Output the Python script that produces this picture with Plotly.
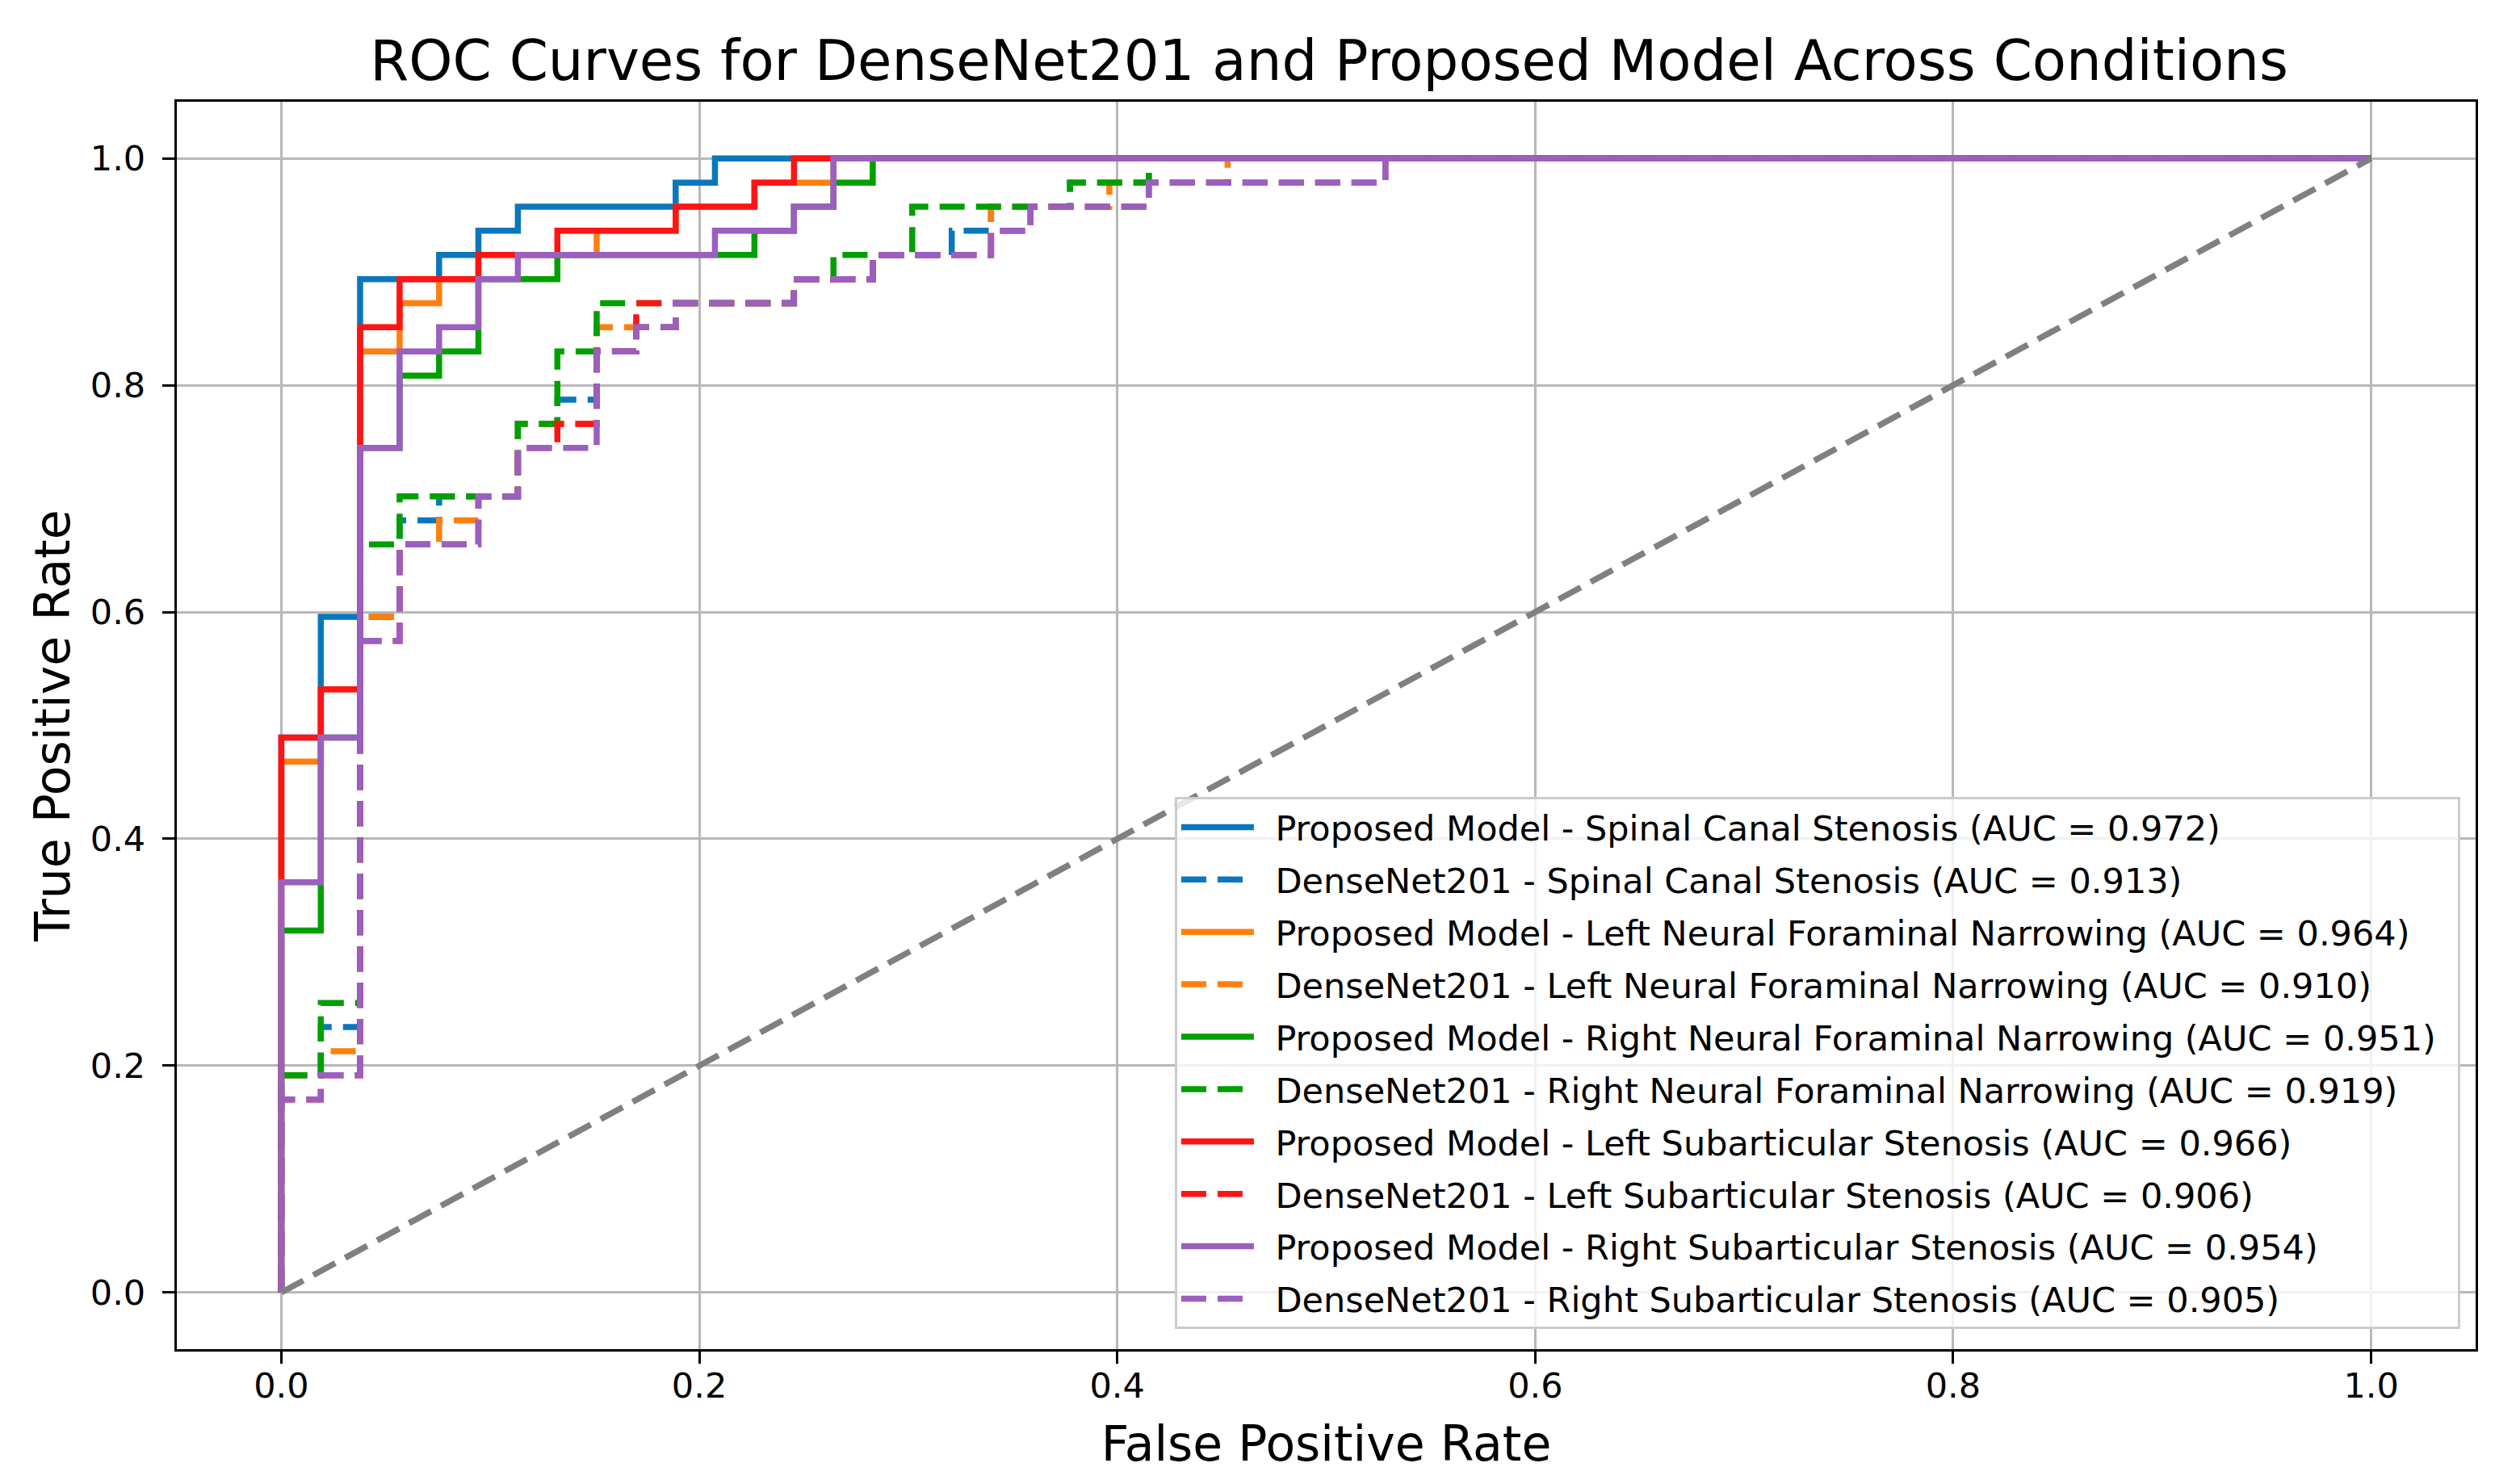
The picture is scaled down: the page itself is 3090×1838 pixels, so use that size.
import plotly.graph_objects as go

# ---- data ----
fpr_pm_scs = [0.0, 0.0, 0.0189, 0.0189, 0.0377, 0.0377, 0.0755, 0.0755, 0.0943, 0.0943, 0.1132, 0.1132, 0.1887, 0.1887, 0.2075, 0.2075, 1.0]
tpr_pm_scs = [0.0, 0.4894, 0.4894, 0.5957, 0.5957, 0.8936, 0.8936, 0.9149, 0.9149, 0.9362, 0.9362, 0.9574, 0.9574, 0.9787, 0.9787, 1.0, 1.0]

fpr_dn_scs = [0.0, 0.0, 0.0189, 0.0189, 0.0377, 0.0377, 0.0566, 0.0566, 0.0755, 0.0755, 0.1132, 0.1132, 0.1321, 0.1321, 0.1509, 0.1509, 0.1698, 0.1698, 0.1887, 0.1887, 0.2453, 0.2453, 0.2830, 0.2830, 0.3208, 0.3208, 0.3396, 0.3396, 0.3774, 0.3774, 0.4151, 0.4151, 1.0]
tpr_dn_scs = [0.0, 0.1915, 0.1915, 0.2340, 0.2340, 0.5957, 0.5957, 0.6809, 0.6809, 0.7021, 0.7021, 0.7660, 0.7660, 0.7872, 0.7872, 0.8298, 0.8298, 0.8511, 0.8511, 0.8723, 0.8723, 0.8936, 0.8936, 0.9149, 0.9149, 0.9362, 0.9362, 0.9574, 0.9574, 0.9787, 0.9787, 1.0, 1.0]

fpr_pm_lnfn = [0.0, 0.0, 0.0189, 0.0189, 0.0377, 0.0377, 0.0566, 0.0566, 0.0755, 0.0755, 0.0943, 0.0943, 0.1509, 0.1509, 0.1887, 0.1887, 0.2264, 0.2264, 0.2642, 0.2642, 1.0]
tpr_pm_lnfn = [0.0, 0.4681, 0.4681, 0.5319, 0.5319, 0.8298, 0.8298, 0.8723, 0.8723, 0.8936, 0.8936, 0.9149, 0.9149, 0.9362, 0.9362, 0.9574, 0.9574, 0.9787, 0.9787, 1.0, 1.0]

fpr_dn_lnfn = [0.0, 0.0, 0.0189, 0.0189, 0.0377, 0.0377, 0.0566, 0.0566, 0.0755, 0.0755, 0.0943, 0.0943, 0.1132, 0.1132, 0.1509, 0.1509, 0.1887, 0.1887, 0.2453, 0.2453, 0.2830, 0.2830, 0.3396, 0.3396, 0.3962, 0.3962, 0.4528, 0.4528, 1.0]
tpr_dn_lnfn = [0.0, 0.1915, 0.1915, 0.2128, 0.2128, 0.5957, 0.5957, 0.6596, 0.6596, 0.6809, 0.6809, 0.7021, 0.7021, 0.7660, 0.7660, 0.8511, 0.8511, 0.8723, 0.8723, 0.8936, 0.8936, 0.9149, 0.9149, 0.9574, 0.9574, 0.9787, 0.9787, 1.0, 1.0]

fpr_pm_rnfn = [0.0, 0.0, 0.0189, 0.0189, 0.0377, 0.0377, 0.0566, 0.0566, 0.0755, 0.0755, 0.0943, 0.0943, 0.1321, 0.1321, 0.2264, 0.2264, 0.2453, 0.2453, 0.2642, 0.2642, 0.2830, 0.2830, 1.0]
tpr_pm_rnfn = [0.0, 0.3191, 0.3191, 0.4894, 0.4894, 0.7447, 0.7447, 0.8085, 0.8085, 0.8298, 0.8298, 0.8936, 0.8936, 0.9149, 0.9149, 0.9362, 0.9362, 0.9574, 0.9574, 0.9787, 0.9787, 1.0, 1.0]

fpr_dn_rnfn = [0.0, 0.0, 0.0189, 0.0189, 0.0377, 0.0377, 0.0566, 0.0566, 0.1132, 0.1132, 0.1321, 0.1321, 0.1509, 0.1509, 0.2453, 0.2453, 0.2642, 0.2642, 0.3019, 0.3019, 0.3774, 0.3774, 0.4151, 0.4151, 1.0]
tpr_dn_rnfn = [0.0, 0.1915, 0.1915, 0.2553, 0.2553, 0.6596, 0.6596, 0.7021, 0.7021, 0.7660, 0.7660, 0.8298, 0.8298, 0.8723, 0.8723, 0.8936, 0.8936, 0.9149, 0.9149, 0.9574, 0.9574, 0.9787, 0.9787, 1.0, 1.0]

fpr_pm_lss = [0.0, 0.0, 0.0189, 0.0189, 0.0377, 0.0377, 0.0566, 0.0566, 0.0943, 0.0943, 0.1321, 0.1321, 0.1887, 0.1887, 0.2264, 0.2264, 0.2453, 0.2453, 1.0]
tpr_pm_lss = [0.0, 0.4894, 0.4894, 0.5319, 0.5319, 0.8511, 0.8511, 0.8936, 0.8936, 0.9149, 0.9149, 0.9362, 0.9362, 0.9574, 0.9574, 0.9787, 0.9787, 1.0, 1.0]

fpr_dn_lss = [0.0, 0.0, 0.0189, 0.0189, 0.0377, 0.0377, 0.0566, 0.0566, 0.0943, 0.0943, 0.1132, 0.1132, 0.1321, 0.1321, 0.1509, 0.1509, 0.1698, 0.1698, 0.2453, 0.2453, 0.2830, 0.2830, 0.3396, 0.3396, 0.3585, 0.3585, 0.4151, 0.4151, 0.5283, 0.5283, 1.0]
tpr_dn_lss = [0.0, 0.1702, 0.1702, 0.1915, 0.1915, 0.5745, 0.5745, 0.6596, 0.6596, 0.7021, 0.7021, 0.7447, 0.7447, 0.7660, 0.7660, 0.8298, 0.8298, 0.8723, 0.8723, 0.8936, 0.8936, 0.9149, 0.9149, 0.9362, 0.9362, 0.9574, 0.9574, 0.9787, 0.9787, 1.0, 1.0]

fpr_pm_rss = [0.0, 0.0, 0.0189, 0.0189, 0.0377, 0.0377, 0.0566, 0.0566, 0.0755, 0.0755, 0.0943, 0.0943, 0.1132, 0.1132, 0.2075, 0.2075, 0.2453, 0.2453, 0.2642, 0.2642, 1.0]
tpr_pm_rss = [0.0, 0.3617, 0.3617, 0.4894, 0.4894, 0.7447, 0.7447, 0.8298, 0.8298, 0.8511, 0.8511, 0.8936, 0.8936, 0.9149, 0.9149, 0.9362, 0.9362, 0.9574, 0.9574, 1.0, 1.0]

fpr_dn_rss = [0.0, 0.0, 0.0189, 0.0189, 0.0377, 0.0377, 0.0566, 0.0566, 0.0943, 0.0943, 0.1132, 0.1132, 0.1509, 0.1509, 0.1698, 0.1698, 0.1887, 0.1887, 0.2453, 0.2453, 0.2830, 0.2830, 0.3396, 0.3396, 0.3585, 0.3585, 0.4151, 0.4151, 0.5283, 0.5283, 1.0]
tpr_dn_rss = [0.0, 0.1702, 0.1702, 0.1915, 0.1915, 0.5745, 0.5745, 0.6596, 0.6596, 0.7021, 0.7021, 0.7447, 0.7447, 0.8298, 0.8298, 0.8511, 0.8511, 0.8723, 0.8723, 0.8936, 0.8936, 0.9149, 0.9149, 0.9362, 0.9362, 0.9574, 0.9574, 0.9787, 0.9787, 1.0, 1.0]

chance_x = [0.0, 1.0]
chance_y = [0.0, 1.0]

conditions = ["Spinal Canal Stenosis", "Left Neural Foraminal Narrowing",
              "Right Neural Foraminal Narrowing", "Left Subarticular Stenosis",
              "Right Subarticular Stenosis"]
auc_proposed = ["0.972", "0.964", "0.951", "0.966", "0.954"]
auc_densenet = ["0.913", "0.910", "0.919", "0.906", "0.905"]
colors = ["#0a77bd", "#ff7f0e", "#00a000", "#ff1414", "#9b5fc0"]

proposed_curves = [(fpr_pm_scs, tpr_pm_scs), (fpr_pm_lnfn, tpr_pm_lnfn), (fpr_pm_rnfn, tpr_pm_rnfn),
                   (fpr_pm_lss, tpr_pm_lss), (fpr_pm_rss, tpr_pm_rss)]
densenet_curves = [(fpr_dn_scs, tpr_dn_scs), (fpr_dn_lnfn, tpr_dn_lnfn), (fpr_dn_rnfn, tpr_dn_rnfn),
                   (fpr_dn_lss, tpr_dn_lss), (fpr_dn_rss, tpr_dn_rss)]

tick_vals = [0.0, 0.2, 0.4, 0.6, 0.8, 1.0]
tick_text = ["0.0", "0.2", "0.4", "0.6", "0.8", "1.0"]

FONT = "DejaVu Sans"
LW = 7.5
DASH = "31px,14px"
GAP = "\u2002"   # space between legend handle and its text

fig = go.Figure()
for k, cond in enumerate(conditions):
    px_, py_ = proposed_curves[k]
    dx_, dy_ = densenet_curves[k]
    name_p = f"Proposed Model - {cond} (AUC = {auc_proposed[k]})"
    name_d = f"DenseNet201 - {cond} (AUC = {auc_densenet[k]})"
    fig.add_trace(go.Scatter(x=px_, y=py_, mode="lines", name=GAP + name_p + GAP, legendgroup=name_p,
                             line=dict(color=colors[k], width=LW)))
    fig.add_trace(go.Scatter(x=dx_, y=dy_, mode="lines", name=GAP + name_d + GAP, legendgroup=name_d,
                             line=dict(color=colors[k], width=LW, dash=DASH)))

fig.add_trace(go.Scatter(x=chance_x, y=chance_y, mode="lines", showlegend=False,
                         line=dict(color="#808080", width=LW, dash=DASH)))

axis_common = dict(
    range=[-0.05, 1.05], tickvals=tick_vals, ticktext=tick_text,
    showgrid=True, gridcolor="#b8b8b8", gridwidth=3,
    showline=True, linecolor="black", linewidth=3.4, mirror=True,
    ticks="outside", ticklen=15, tickwidth=3.4, tickcolor="black",
    tickfont=dict(family=FONT, size=43, color="black"),
    zeroline=False,
)

fig.update_layout(
    width=3082, height=1830,
    margin=dict(l=211, r=24, t=118, b=167, pad=0),
    paper_bgcolor="white", plot_bgcolor="white",
    font=dict(family=FONT, color="black"),
    title=dict(text="ROC Curves for DenseNet201 and Proposed Model Across Conditions",
               font=dict(family=FONT, size=69, color="black"),
               x=0.5315, xanchor="center", yref="container", y=0.9634, yanchor="middle"),
    xaxis=dict(**axis_common, ticklabelstandoff=-10,
               title=dict(text="False Positive Rate",
                          font=dict(family=FONT, size=60, color="black"), standoff=28)),
    yaxis=dict(**axis_common, ticklabelstandoff=12,
               title=dict(text="True Positive Rate",
                          font=dict(family=FONT, size=60, color="black"), standoff=6)),
    legend=dict(x=0.9933, xanchor="right", y=0.0162, yanchor="bottom",
                bgcolor="rgba(255,255,255,0.8)", bordercolor="#cccccc", borderwidth=3,
                font=dict(family=FONT, size=43, color="black"),
                itemwidth=90, tracegroupgap=6, traceorder="grouped"),
    showlegend=True,
)

fig.write_html("out.html")
